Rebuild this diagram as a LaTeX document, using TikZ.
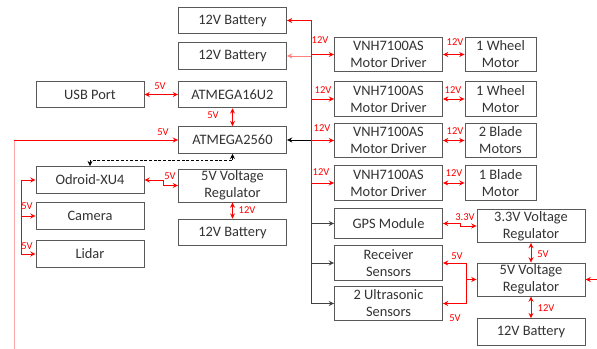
\documentclass[tikz,border=0pt]{standalone}
\usepackage{fontspec}
\setmainfont{Carlito}
\usetikzlibrary{arrows.meta}

\begin{document}
\begin{tikzpicture}[
    x=0.03cm, y=-0.03cm,
    font=\fontsize{12.3}{14.5}\selectfont,
    blk/.style={draw=black!65,fill=white,line width=0.75pt,text=black!80,align=center,minimum width=3.24cm,minimum height=0.8cm,inner sep=1pt},
    tall/.style={blk,minimum height=1.03cm},
    motor/.style={tall,minimum width=2.13cm},
    v/.style={text=red,font=\fontsize{9}{9}\selectfont,inner sep=0pt},
    pwr/.style={<->,draw=red,line width=0.75pt},
    feed/.style={->,draw=red,line width=0.75pt},
    sig/.style={->,draw=black!75,line width=0.75pt},
    >={Stealth[length=4.5pt,width=4.2pt]}
]
    \useasboundingbox (0,0) rectangle (597,349);

    \node[blk] (bat1) at (232.5,20.5) {12V Battery};
    \node[blk] (bat2) at (232.5,56) {12V Battery};
    \node[blk] (usb) at (90,94.5) {USB Port};
    \node[blk] (u2) at (232.5,94.5) {ATMEGA16U2};
    \node[blk] (mega) at (232.5,140) {ATMEGA2560};
    \node[blk] (odroid) at (90,180) {Odroid-XU4};
    \node[blk] (cam) at (90,216) {Camera};
    \node[blk] (lidar) at (90,254) {Lidar};
    \node[tall,minimum height=0.99cm] (regL) at (232.5,185.5) {5V Voltage\\Regulator};
    \node[blk] (batL) at (232.5,232.5) {12V Battery};

    \node[tall] (md1) at (388.5,54.5) {VNH7100AS\\Motor Driver};
    \node[motor] (wm1) at (500.5,54.5) {1 Wheel\\Motor};
    \node[tall] (md2) at (388.5,99) {VNH7100AS\\Motor Driver};
    \node[motor] (wm2) at (500.5,99) {1 Wheel\\Motor};
    \node[tall] (md3) at (388.5,140.5) {VNH7100AS\\Motor Driver};
    \node[motor] (bm2) at (500.5,140.5) {2 Blade\\Motors};
    \node[tall] (md4) at (388.5,183) {VNH7100AS\\Motor Driver};
    \node[motor] (bm1) at (500.5,183) {1 Blade\\Motor};
    \node[blk,minimum height=0.9cm] (gps) at (388.5,223.5) {GPS Module};
    \node[tall] (recv) at (388.5,263) {Receiver\\Sensors};
    \node[tall] (ultra) at (388.5,303.5) {2 Ultrasonic\\Sensors};
    \node[tall,minimum height=0.99cm] (reg33) at (531,226) {3.3V Voltage\\Regulator};
    \node[tall,minimum height=0.99cm] (reg5) at (531,279.5) {5V Voltage\\Regulator};
    \node[blk] (batR) at (531,332) {12V Battery};

    \coordinate (bt) at (311,20.5);
    \draw[black!75,line width=0.75pt] (bt |- mega.east) -- (bt |- ultra.west);
    \draw[sig,black] (bt |- mega.east) -- (mega.east);
    \draw[sig] (bt |- gps.west) -- (gps.west);
    \draw[sig] (bt |- recv.west) -- (recv.west);
    \draw[sig] (bt |- ultra.west) -- (ultra.west);
    \draw[red,line width=0.75pt] (bt) -- (bt |- md4.west);
    \draw[feed] (bt) -- (bat1.east);
    \draw[feed,red!50] (bt |- bat2.east) -- (bat2.east);
    \draw[feed] (bt |- md1.west) -- (md1.west);
    \draw[feed] (bt |- md2.west) -- (md2.west);
    \draw[feed] (bt |- md3.west) -- (md3.west);
    \draw[feed] (bt |- md4.west) -- (md4.west);
    \node[v] (l1) at (320,40) {12V};
    \node[v] (l2) at (323,90) {12V};
    \node[v] (l3) at (322,128) {12V};
    \node[v] (l4) at (321,172) {12V};

    \draw[pwr] (md1.east) -- (wm1.west);
    \draw[pwr] (md2.east) -- (wm2.west);
    \draw[pwr] (md3.east) -- (bm2.west);
    \draw[pwr] (md4.east) -- (bm1.west);
    \node[v] (m1) at (455,42) {12V};
    \node[v] (m2) at (453,90) {12V};
    \node[v] (m3) at (455,131) {12V};
    \node[v] (m4) at (454,173) {12V};

    \draw[pwr] (usb.east) -- (u2.west);
    \node[v] (k1) at (160,86) {5V};
    \draw[pwr] (u2.south) -- (mega.north);
    \node[v] (k2) at (213,115) {5V};

    \coordinate (ps) at (14,349);
    \draw[red!35,line width=0.75pt] (ps) -- (ps |- mega.west);
    \draw[feed] (ps |- mega.west) -- (mega.west);
    \node[v] (k3) at (163,132) {5V};

    \draw[<->,black,line width=0.75pt,dash pattern=on 2.5pt off 1.5pt] (mega.south) -- ++(0,7) -| (odroid.north);

    \draw[pwr] (odroid.east) -- ++(19,0) |- (regL.west);
    \node[v] (k4) at (170,176) {5V};
    \draw[pwr] (regL.south) -- (batL.north);
    \node[v] (k5) at (247,210) {12V};

    \coordinate (lb) at (21,180);
    \draw[red,line width=0.75pt] (lb) -- (lb |- lidar.west);
    \draw[feed] (lb) -- (odroid.west);
    \draw[feed] (lb |- cam.west) -- (cam.west);
    \draw[feed] (lb |- lidar.west) -- (lidar.west);
    \node[v] (k6) at (27,206) {5V};
    \node[v] (k7) at (27,246) {5V};

    \draw[pwr] (gps.east) -- ++(17,0) |- (reg33.west);
    \node[v] (n1) at (465,217) {3.3V};
    \draw[pwr] (reg33.south) -- (reg5.north);
    \node[v] (n2) at (543,254) {5V};
    \draw[pwr] (reg5.south) -- (batR.north);
    \node[v] (n3) at (546,308) {12V};

    \coordinate (rj) at (466,279.5);
    \draw[red,line width=0.75pt] (rj |- recv.east) -- (rj |- ultra.east);
    \draw[feed] (rj |- recv.east) -- (recv.east);
    \draw[feed] (rj |- ultra.east) -- (ultra.east);
    \draw[feed] (rj) -- (reg5.west);
    \node[v] (n4) at (457,256) {5V};
    \node[v] (n5) at (455,318) {5V};

    \coordinate (ri) at (597,279.5);
    \draw[feed] (ri) -- (reg5.east);
\end{tikzpicture}
\end{document}
